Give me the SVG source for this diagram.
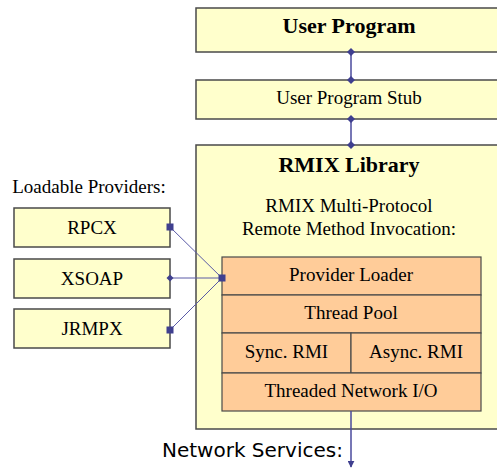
<svg xmlns="http://www.w3.org/2000/svg" width="497" height="468" viewBox="0 0 497 468">
  <style>
    .box { fill: #ffffcc; stroke: #4a4a4a; stroke-width: 1.5; }
    .layer { fill: #ffcc99; stroke: #4a4a4a; stroke-width: 1.2; }
    .t { font-family: "Liberation Serif", "Times New Roman", serif; font-size: 19px; fill: #000; text-anchor: middle; }
    .tb { font-family: "Liberation Serif", "Times New Roman", serif; font-size: 22px; font-weight: bold; fill: #000; text-anchor: middle; }
    .ts { font-family: "DejaVu Sans", Verdana, sans-serif; font-size: 20px; fill: #000; }
    .link { stroke: #4a4a9c; stroke-width: 1.5; fill: none; }
    .thin { stroke: #5a5aa6; stroke-width: 1; fill: none; }
    .mk { fill: #3f3f8f; }
  </style>
  <defs>
    <marker id="arrow" viewBox="0 0 10 10" refX="9" refY="5" markerWidth="7" markerHeight="7" markerUnits="userSpaceOnUse" orient="auto">
      <path d="M0,0 L10,5 L0,10 Z" fill="#3f3f8f"/>
    </marker>
  </defs>

  <!-- top-level application -->
  <g id="user-program">
    <rect class="box" x="196" y="8" width="310" height="44"/>
    <text class="tb" x="349" y="33">User Program</text>
  </g>

  <g id="user-program-stub">
    <rect class="box" x="196" y="80" width="310" height="39"/>
    <text class="t" x="349" y="104">User Program Stub</text>
  </g>

  <!-- library container -->
  <g id="rmix-library">
    <rect class="box" x="196" y="145" width="310" height="284"/>
    <text class="tb" x="349" y="172">RMIX Library</text>
    <text class="t" x="349" y="212">RMIX Multi-Protocol</text>
    <text class="t" x="349" y="235">Remote Method Invocation:</text>
  </g>

  <g id="provider-loader">
    <rect class="layer" x="222" y="257" width="259" height="38"/>
    <text class="t" x="351" y="281">Provider Loader</text>
  </g>
  <g id="thread-pool">
    <rect class="layer" x="222" y="295" width="259" height="38"/>
    <text class="t" x="351" y="319">Thread Pool</text>
  </g>
  <g id="sync-rmi">
    <rect class="layer" x="222" y="333" width="129" height="40"/>
    <text class="t" x="286.5" y="358">Sync. RMI</text>
  </g>
  <g id="async-rmi">
    <rect class="layer" x="351" y="333" width="130" height="40"/>
    <text class="t" x="416" y="358">Async. RMI</text>
  </g>
  <g id="network-io">
    <rect class="layer" x="222" y="373" width="259" height="38"/>
    <text class="t" x="351" y="397">Threaded Network I/O</text>
  </g>

  <!-- pluggable protocol providers -->
  <text class="t" x="89" y="193">Loadable Providers:</text>
  <g id="rpcx">
    <rect class="box" x="14" y="208" width="156" height="39"/>
    <text class="t" x="92" y="234">RPCX</text>
  </g>
  <g id="xsoap">
    <rect class="box" x="14" y="259" width="156" height="39"/>
    <text class="t" x="92" y="285">XSOAP</text>
  </g>
  <g id="jrmpx">
    <rect class="box" x="14" y="309" width="156" height="39"/>
    <text class="t" x="92" y="335">JRMPX</text>
  </g>

  <text class="ts" x="162" y="457">Network Services:</text>

  <!-- connectors -->
  <g id="connectors">
    <line class="link" x1="351" y1="52" x2="351" y2="80"/>
    <path class="mk" d="M351,48 L355,52 L351,56 L347,52 Z"/>
    <path class="mk" d="M351,76 L355,80 L351,84 L347,80 Z"/>

    <line class="link" x1="351" y1="119" x2="351" y2="145"/>
    <path class="mk" d="M351,115 L355,119 L351,123 L347,119 Z"/>
    <path class="mk" d="M351,141 L355,145 L351,149 L347,145 Z"/>

    <line class="thin" x1="170" y1="227" x2="222" y2="278"/>
    <line class="thin" x1="170" y1="278" x2="222" y2="278"/>
    <line class="thin" x1="170" y1="330" x2="222" y2="278"/>
    <rect class="mk" x="166.5" y="223.5" width="7" height="7"/>
    <path class="mk" d="M170,274.5 L173.5,278 L170,281.5 L166.5,278 Z"/>
    <rect class="mk" x="166.5" y="326.5" width="7" height="7"/>
    <rect class="mk" x="218.5" y="274.5" width="7" height="7"/>

    <line class="link" x1="351" y1="411" x2="351" y2="467" marker-end="url(#arrow)"/>
  </g>
</svg>
